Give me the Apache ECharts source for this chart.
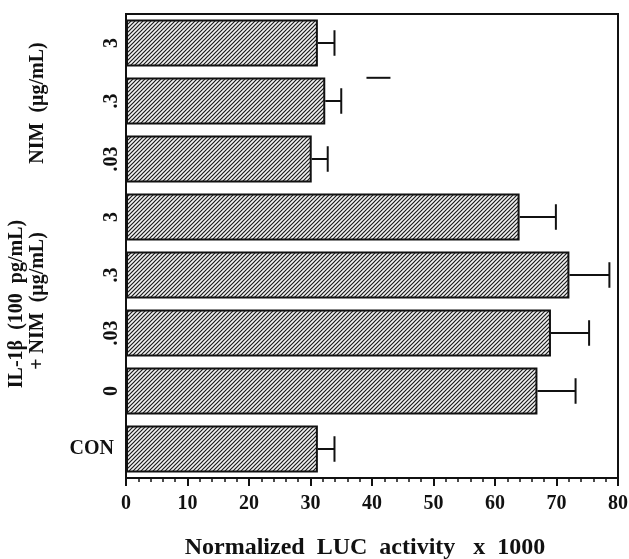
<!DOCTYPE html>
<html>
<head>
<meta charset="utf-8">
<script src="https://cdn.jsdelivr.net/npm/echarts@6/dist/echarts.min.js"></script>
<style>
html,body{margin:0;padding:0;background:#fff;}
#chart{width:629px;height:559px;}
</style>
</head>
<body>
<div id="chart"></div>
<script>
// ---- data (bottom to top) ----
var categories = ['CON', 'IL 0', 'IL .03', 'IL .3', 'IL 3', 'NIM .03', 'NIM .3', 'NIM 3'];
var tickLabels = ['CON', '0', '.03', '.3', '3', '.03', '.3', '3'];
var values = [31.2, 66.9, 69.1, 72.1, 64.0, 30.2, 32.4, 31.2];
var errorTops = [33.9, 73.1, 75.3, 78.6, 69.9, 32.8, 35.0, 33.9];
var xTicks = [0, 10, 20, 30, 40, 50, 60, 70, 80];
// stray short dash in the figure: from, to (x values), category position
var dashFrom = [39.1];
var dashTo = [43.0];
var dashAt = [6.4];

var FONT = '"Liberation Serif", "Times New Roman", serif';
var INK = '#111';

function makeHatch() {
  var c = document.createElement('canvas');
  c.width = 4; c.height = 4;
  var g = c.getContext('2d');
  g.fillStyle = '#f2f2f2';
  g.fillRect(0, 0, 4, 4);
  g.strokeStyle = '#1a1a1a';
  g.lineWidth = 1.2;
  g.beginPath();
  g.moveTo(-1, 5); g.lineTo(5, -1);
  g.moveTo(-1, 1); g.lineTo(1, -1);
  g.moveTo(3, 5); g.lineTo(5, 3);
  g.stroke();
  return c;
}

var errData = values.map(function (v, i) { return [v, errorTops[i], i]; });
var dashData = dashFrom.map(function (f, i) { return [f, dashTo[i], dashAt[i]]; });

var chart = echarts.init(document.getElementById('chart'), null, {renderer: 'canvas'});
chart.setOption({
  animation: false,
  backgroundColor: '#fff',
  grid: {left: 126, right: 11, top: 14, bottom: 81, containLabel: false, outerBoundsMode: 'none',
         show: true, borderColor: INK, borderWidth: 2, backgroundColor: 'transparent'},
  xAxis: {
    type: 'value', min: xTicks[0], max: xTicks[xTicks.length - 1], interval: 10,
    axisLine: {show: true, lineStyle: {color: INK, width: 2}},
    axisTick: {show: true, inside: false, length: 8, lineStyle: {color: INK, width: 2}},
    minorTick: {show: true, splitNumber: 5, length: 4, lineStyle: {color: INK, width: 1.5}},
    splitLine: {show: false},
    axisLabel: {color: INK, fontFamily: FONT, fontWeight: 'bold', fontSize: 20, margin: 16},
    name: 'Normalized  LUC  activity   x  1000',
    nameLocation: 'middle', nameGap: 58,
    nameTextStyle: {color: INK, fontFamily: FONT, fontWeight: 'bold', fontSize: 24, padding: [0, 14, 0, 0]}
  },
  yAxis: [{
    type: 'category', data: categories,
    axisLine: {show: true, lineStyle: {color: INK, width: 2}},
    axisTick: {show: false},
    axisLabel: {
      rotate: 90, margin: 4, color: INK, fontFamily: FONT, fontWeight: 'bold', fontSize: 20,
      formatter: function (v, i) { return i === 0 ? '' : tickLabels[i]; }
    }
  }, {
    type: 'category', data: categories, position: 'left',
    axisLine: {show: false}, axisTick: {show: false},
    axisLabel: {
      margin: 12, color: INK, fontFamily: FONT, fontWeight: 'bold', fontSize: 20,
      formatter: function (v, i) { return i === 0 ? tickLabels[0] : ''; }
    }
  }],
  series: [{
    type: 'bar', data: values, yAxisIndex: 0, barCategoryGap: '19%',
    itemStyle: {color: {image: makeHatch(), repeat: 'repeat'}, borderColor: INK, borderWidth: 2}
  }, {
    type: 'custom', yAxisIndex: 0, data: errData, encode: {x: [0, 1], y: 2}, z: 5,
    renderItem: function (params, api) {
      var ci = api.value(2);
      var p0 = api.coord([api.value(0), ci]);
      var p1 = api.coord([api.value(1), ci]);
      var h = api.size([0, 1])[1] * 0.22;
      return {type: 'group', children: [
        {type: 'line', shape: {x1: p0[0], y1: p0[1], x2: p1[0], y2: p1[1]}, style: {stroke: INK, lineWidth: 2}},
        {type: 'line', shape: {x1: p1[0], y1: p1[1] - h, x2: p1[0], y2: p1[1] + h}, style: {stroke: INK, lineWidth: 2}}
      ]};
    }
  }, {
    type: 'custom', yAxisIndex: 0, data: dashData, encode: {x: [0, 1]}, z: 5,
    renderItem: function (params, api) {
      var pos = api.value(2);
      var lo = Math.floor(pos), frac = pos - lo;
      var a = api.coord([api.value(0), lo]);
      var b = api.coord([api.value(0), lo + 1]);
      var c = api.coord([api.value(1), lo]);
      var y = a[1] + (b[1] - a[1]) * frac;
      return {type: 'line', shape: {x1: a[0], y1: y, x2: c[0], y2: y}, style: {stroke: INK, lineWidth: 2}};
    }
  }],
  graphic: [
    {type: 'text', x: 38, y: 103, rotation: Math.PI / 2,
     style: {text: 'NIM  (μg/mL)', fill: INK, font: 'bold 20px ' + FONT, textAlign: 'center', textVerticalAlign: 'middle'}},
    {type: 'text', x: 17, y: 304, rotation: Math.PI / 2,
     style: {text: 'IL-1β  (100  pg/mL)', fill: INK, font: 'bold 20px ' + FONT, textAlign: 'center', textVerticalAlign: 'middle'}},
    {type: 'text', x: 38, y: 301, rotation: Math.PI / 2,
     style: {text: '+ NIM  (μg/mL)', fill: INK, font: 'bold 20px ' + FONT, textAlign: 'center', textVerticalAlign: 'middle'}}
  ]
});
</script>
</body>
</html>
